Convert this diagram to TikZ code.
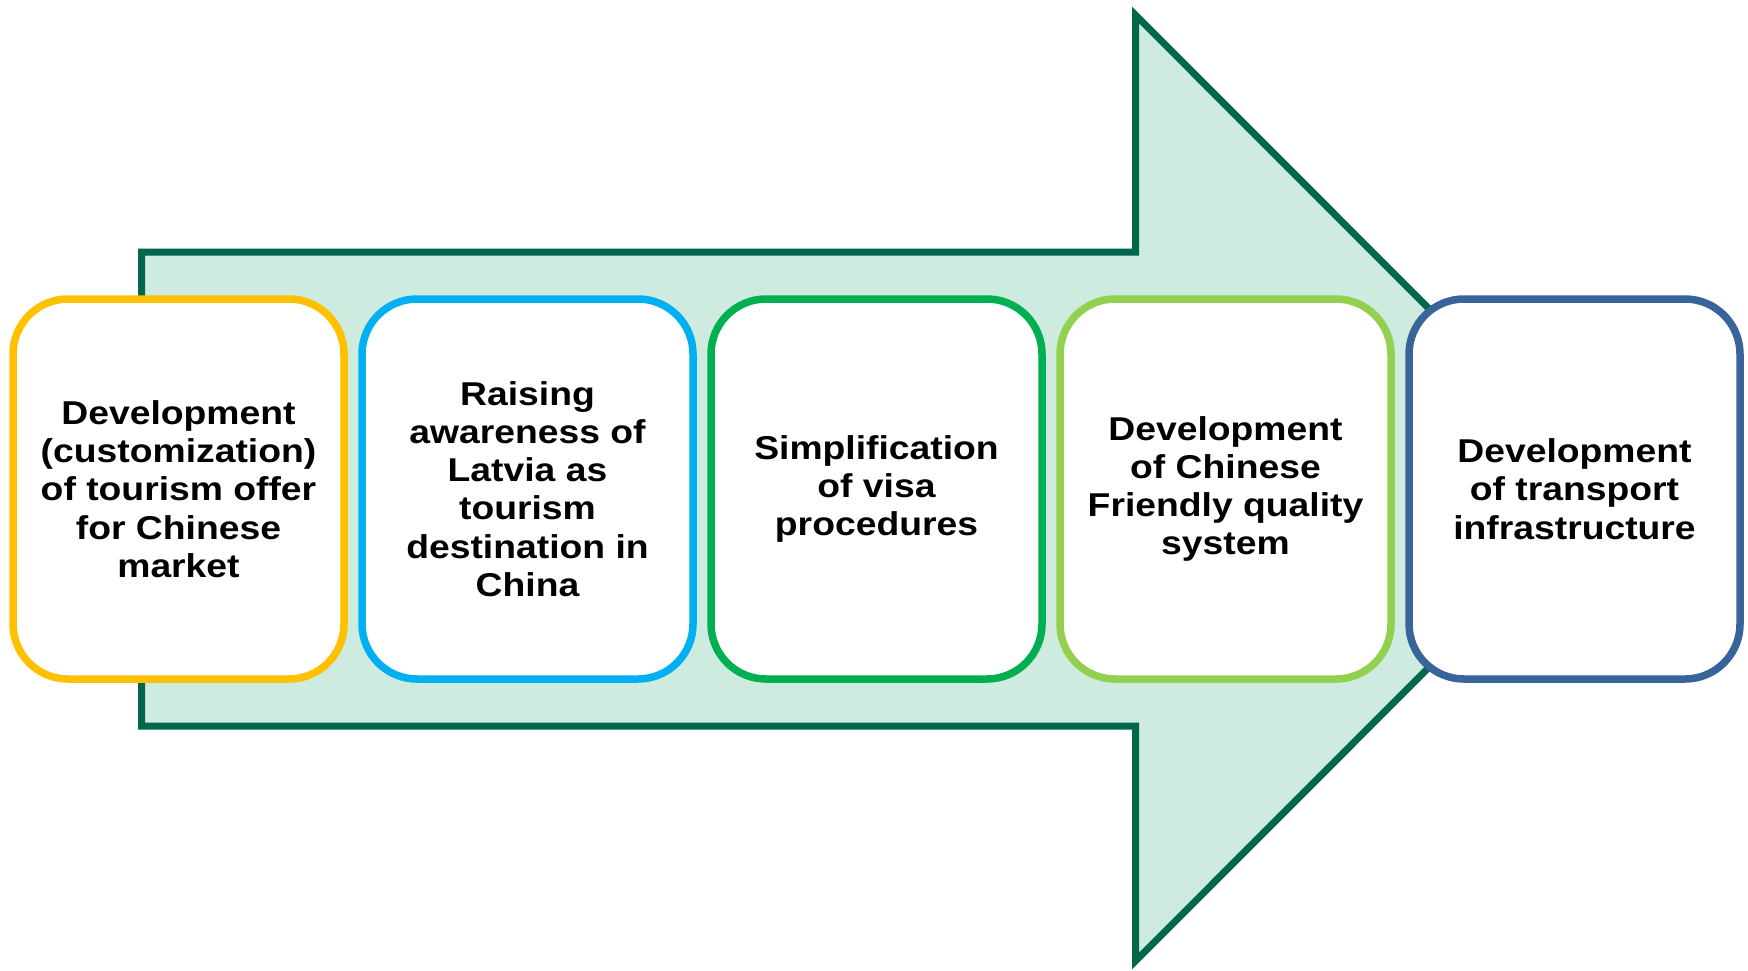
\documentclass[tikz,border=0pt]{standalone}
\usepackage{fontspec}
\setmainfont{Liberation Sans}[FakeStretch=1.13]
\definecolor{arrowline}{HTML}{00664C}
\definecolor{arrowfill}{HTML}{CDECDF}
\definecolor{cYellow}{HTML}{FFC000}
\definecolor{cSky}{HTML}{00B0F0}
\definecolor{cGreen}{HTML}{00B050}
\definecolor{cLime}{HTML}{92D050}
\definecolor{cNavy}{HTML}{376599}
\begin{document}
\begin{tikzpicture}[x=1pt,y=-1pt,
  stagebox/.style={draw=#1, line width=7.5pt, fill=white, rounded corners=55pt,
    minimum width=331pt, minimum height=380pt, align=center, inner sep=0pt,
    font=\bfseries\fontsize{33}{38.3}\selectfont},
  bigarrow/.style={draw=arrowline, fill=arrowfill, line width=7pt}]
\useasboundingbox (0,0) rectangle (1748,970);
% the background arrow
\draw[bigarrow] (141.5,252) -- (1135.5,252) -- (1135.5,15) -- (1608,488)
  -- (1135.5,961) -- (1135.5,726) -- (141.5,726) -- cycle;
% the five stages
\node[stagebox=cYellow] (s1) at (178.5,489) {Development\\(customization)\\of tourism offer\\for Chinese\\market};
\node[stagebox=cSky] (s2) at (527.5,489) {Raising\\awareness of\\Latvia as\\tourism\\destination in\\China};
\node[stagebox=cGreen] (s3) at (876.5,489) {Simplification\\of visa\\procedures};
\node[stagebox=cLime] (s4) at (1225.5,489) {Development\\of Chinese\\Friendly quality\\system};
\node[stagebox=cNavy] (s5) at (1574.5,489) {Development\\of transport\\infrastructure};
\end{tikzpicture}
\end{document}
